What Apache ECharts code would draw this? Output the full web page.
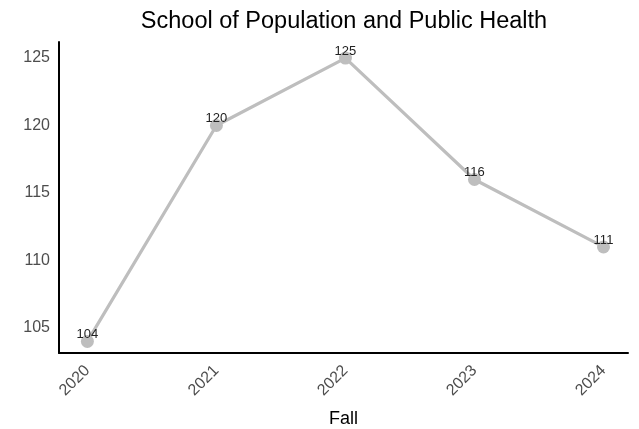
<!DOCTYPE html>
<html><head><meta charset="utf-8">
<script src="https://cdn.jsdelivr.net/npm/echarts@6/dist/echarts.min.js"></script>
<style>html,body{margin:0;padding:0;background:#fff}#c{width:639px;height:429px}</style>
</head><body><div id="c"></div>
<script>
const years = [2020, 2021, 2022, 2023, 2024];
const values = [104, 120, 125, 116, 111];
const yTicks = [105, 110, 115, 120, 125];
const title = 'School of Population and Public Health';
const xName = 'Fall';

const chart = echarts.init(document.getElementById('c'));
chart.setOption({
  animation: false,
  title: {text: title, left: 339, top: 5, textAlign: 'center',
    textStyle: {fontFamily: 'Liberation Sans, Arial', fontSize: 23.5, fontWeight: 'normal', color: '#000'}},
  grid: {left: 59, right: 11, top: 42, bottom: 76, containLabel: false, outerBoundsMode: 'none'},
  xAxis: {
    type: 'value', min: 2019.78, max: 2024.19,
    name: xName, nameLocation: 'middle', nameGap: 57,
    nameTextStyle: {fontFamily: 'Liberation Sans, Arial', fontSize: 18, color: '#000'},
    splitLine: {show: false},
    axisLine: {show: true, lineStyle: {color: '#000', width: 2}},
    axisTick: {show: false},
    axisLabel: {customValues: years, rotate: 45, margin: 15, color: '#4d4d4d',
      fontFamily: 'Liberation Sans, Arial', fontSize: 16, formatter: v => String(v)}
  },
  yAxis: {
    type: 'value', min: 103.14, max: 126.19,
    splitLine: {show: false},
    axisLine: {show: true, lineStyle: {color: '#000', width: 2}},
    axisTick: {show: false},
    axisLabel: {customValues: yTicks, margin: 9, color: '#4d4d4d',
      fontFamily: 'Liberation Sans, Arial', fontSize: 16, formatter: v => String(v)}
  },
  series: [{
    type: 'line',
    data: years.map((y, i) => [y, values[i]]),
    lineStyle: {color: '#bebebe', width: 3.2},
    itemStyle: {color: '#bebebe'},
    symbol: 'circle', symbolSize: 13,
    label: {show: true, position: 'top', distance: -6, color: '#222',
      fontFamily: 'Liberation Sans, Arial', fontSize: 13,
      formatter: p => String(p.value[1])}
  }]
});
</script></body></html>
